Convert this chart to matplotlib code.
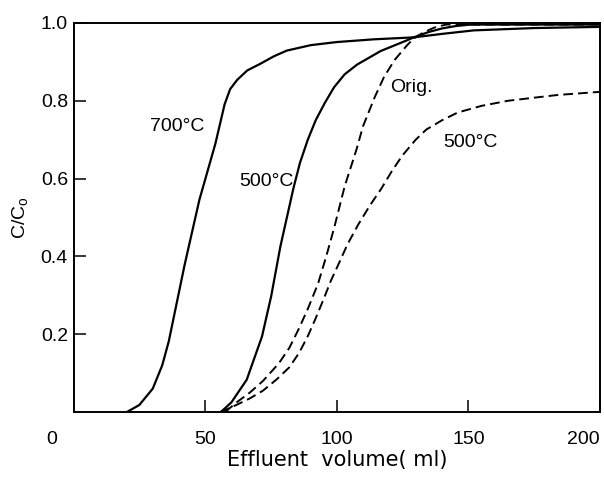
import matplotlib
matplotlib.use("Agg")
import matplotlib.pyplot as plt

plt.rcParams["font.family"] = ["Liberation Sans", "DejaVu Sans"]

# breakthrough curves
x_700 = [20.3, 25, 30.1, 33.7, 36.2, 42.2, 47.8, 53.9, 57.4, 59.5, 62.2, 66, 71.2, 76, 81, 90.1, 100, 114, 129.2, 140, 152, 175, 200]
y_700 = [0.0, 0.018, 0.06, 0.12, 0.182, 0.378, 0.545, 0.69, 0.791, 0.83, 0.854, 0.878, 0.896, 0.914, 0.929, 0.943, 0.951, 0.958, 0.963, 0.972, 0.981, 0.987, 0.99]

x_500 = [56, 60, 65.8, 71.6, 75.1, 78.6, 83.5, 86, 89, 92, 95.5, 99, 103, 107.7, 116.7, 126.5, 129.2, 135, 140, 145, 150.8, 175, 200]
y_500 = [0.0, 0.025, 0.083, 0.194, 0.298, 0.426, 0.574, 0.64, 0.70, 0.75, 0.795, 0.835, 0.868, 0.893, 0.928, 0.955, 0.963, 0.977, 0.986, 0.992, 0.996, 0.996, 0.996]

x_orig = [57.6, 62, 67, 72, 78, 82, 85.6, 89, 92.9, 96, 99, 103, 107.5, 110, 114.4, 118, 122, 126.6, 129.2, 133, 137, 141.5, 160, 200]
y_orig = [0.0, 0.025, 0.05, 0.08, 0.125, 0.165, 0.214, 0.265, 0.33, 0.40, 0.473, 0.58, 0.675, 0.735, 0.809, 0.862, 0.905, 0.942, 0.96, 0.976, 0.988, 0.996, 0.996, 0.996]

x_500d = [55.7, 60, 67, 72, 77.2, 82, 85.7, 89, 92, 95, 97.8, 101, 104, 108, 112.5, 117, 121, 125, 130, 134, 140, 146, 155, 165, 175, 184, 200]
y_500d = [0.0, 0.012, 0.035, 0.055, 0.084, 0.115, 0.152, 0.195, 0.241, 0.29, 0.338, 0.385, 0.43, 0.48, 0.53, 0.575, 0.62, 0.66, 0.70, 0.726, 0.75, 0.77, 0.787, 0.80, 0.808, 0.815, 0.823]

xticks = [50, 100, 150, 200]
yticks = [0.2, 0.4, 0.6, 0.8, 1.0]

FS = 14
fig = plt.figure(figsize=(6.04, 4.79), dpi=100)
ax = fig.add_axes([0.1217, 0.1399, 0.8717, 0.8121])

dash = (0, (5, 2.6))
ax.plot(x_700, y_700, color="black", lw=1.6)
ax.plot(x_500, y_500, color="black", lw=1.6)
ax.plot(x_orig, y_orig, color="black", lw=1.4, linestyle=dash)
ax.plot(x_500d, y_500d, color="black", lw=1.4, linestyle=dash)

# curve labels
ax.text(39.2, 0.735, "700°C", fontsize=FS, ha="center", va="center")
ax.text(73.2, 0.593, "500°C", fontsize=FS, ha="center", va="center")
ax.text(128.5, 0.835, "Orig.", fontsize=FS, ha="center", va="center")
ax.text(150.9, 0.692, "500°C", fontsize=FS, ha="center", va="center")

ax.set_xlim(0, 200)
ax.set_ylim(0, 1.0)
ax.set_xticks(xticks)
ax.set_xticklabels([str(v) for v in xticks], fontsize=FS)
ax.get_xticklabels()[-1].set_ha("right")
ax.set_yticks(yticks)
ax.set_yticklabels([f"{v:.1f}" for v in yticks], fontsize=FS)
ax.tick_params(axis="x", direction="in", length=8.5, width=1.1, pad=14)
ax.tick_params(axis="y", direction="in", length=8.5, width=1.1, pad=4)
ax.text(-0.041, -0.072, "0", transform=ax.transAxes, fontsize=FS, ha="center", va="center")

for s in ax.spines.values():
    s.set_linewidth(1.4)

ax.set_xlabel("Effluent  volume( ml)", fontsize=15, family="DejaVu Sans")
ax.xaxis.set_label_coords(0.5, -0.098)
ax.set_ylabel(r"C/C$_\mathregular{o}$", fontsize=FS)
ax.yaxis.set_label_coords(-0.08, 0.5)

fig.savefig("out.png", dpi=100)
